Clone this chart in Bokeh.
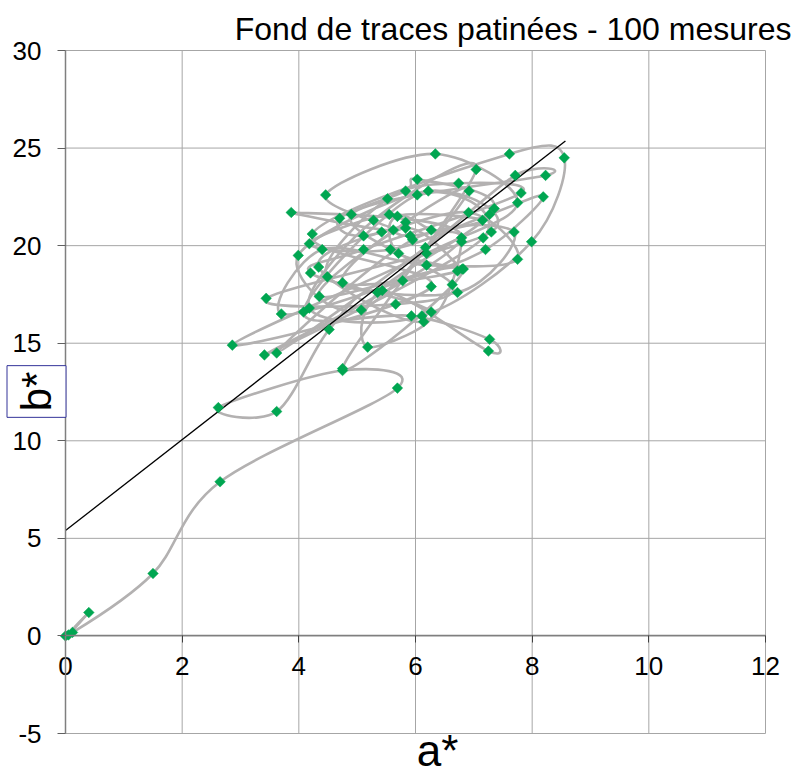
import numpy as np
from bokeh.plotting import figure
from bokeh.models import Label, FixedTicker, Range1d
from bokeh.embed import file_html
from bokeh.resources import INLINE

# ---- data ----
a_star = [0.00, 0.05, 0.40, 0.12, 1.50, 2.65, 5.69, 4.75, 2.62, 3.62,
          4.52, 5.43, 7.25, 7.27, 5.93, 4.08, 6.03, 7.16, 3.41, 6.79,
          3.87, 5.62, 4.46, 6.34, 7.75, 6.19, 2.86, 6.27, 4.23, 7.61,
          8.55, 7.99, 6.11, 4.18, 5.28, 7.04, 4.75, 6.82, 4.35, 5.83,
          6.92, 5.07, 3.99, 6.22, 7.30, 3.44, 5.66, 6.63, 4.90, 8.23,
          7.71, 6.17, 3.62, 5.95, 7.69, 6.72, 4.49, 5.52, 6.74, 7.81,
          5.11, 4.20, 6.27, 5.18, 5.35, 7.35, 6.03, 5.83, 4.70, 5.11,
          6.91, 7.75, 6.19, 4.40, 3.70, 5.78, 7.20, 8.19, 7.27, 5.57,
          4.18, 5.55, 6.27, 6.79, 6.14, 4.34, 5.42, 5.91, 7.15, 5.69,
          5.71, 6.72, 4.75, 5.83, 6.80]
b_star = [0.00, 0.05, 1.20, 0.18, 3.20, 7.90, 12.70, 13.60, 11.70, 11.50,
          15.70, 17.70, 14.60, 15.20, 16.40, 16.60, 22.60, 20.40, 14.40, 20.40,
          21.70, 20.80, 22.60, 24.70, 22.20, 19.60, 14.90, 17.90, 20.60, 24.70,
          24.50, 20.20, 16.40, 16.80, 21.30, 23.90, 13.70, 18.80, 17.40, 21.20,
          22.80, 16.70, 19.50, 22.80, 20.70, 17.30, 17.00, 18.00, 21.60, 23.60,
          23.60, 19.90, 14.50, 20.30, 20.70, 17.60, 18.40, 22.40, 23.20, 22.70,
          19.80, 18.60, 16.60, 14.80, 17.60, 21.90, 23.40, 22.80, 21.40, 20.50,
          21.70, 19.30, 19.00, 19.80, 16.50, 18.20, 19.80, 22.50, 21.60, 19.80,
          20.10, 21.60, 20.80, 20.20, 16.10, 18.90, 20.70, 20.50, 21.30, 21.50,
          19.60, 18.70, 18.10, 20.90, 18.80]

x_ticks = [0, 2, 4, 6, 8, 10, 12]
x_tick_labels = ["0", "2", "4", "6", "8", "10", "12"]
y_ticks = [-5, 0, 5, 10, 15, 20, 25, 30]
y_tick_labels = ["-5", "0", "5", "10", "15", "20", "25", "30"]

trend_slope = 2.33
trend_intercept = 5.4
trend_x = [0.0, 8.57]

title_text = "Fond de traces patinées - 100 mesures"
x_title = "a*"
y_title = "b*"

FONT = "Liberation Sans"

# ---- layout: the frame covers the whole canvas, plot area is drawn in data space ----
W, H = 797, 767
PL, PR, PT, PB = 65, 765, 50, 733          # plot-area edges in pixels
XMIN, XMAX, YMIN, YMAX = 0, 12, -5, 30
sx = (PR - PL) / (XMAX - XMIN)
sy = (PB - PT) / (YMAX - YMIN)
x_range = Range1d(XMIN - PL / sx, XMAX + (W - PR) / sx)
y_range = Range1d(YMIN - (H - PB) / sy, YMAX + PT / sy)

p = figure(width=W, height=H, x_range=x_range, y_range=y_range,
           output_backend="svg", toolbar_location=None,
           min_border_left=0, min_border_right=0,
           min_border_top=0, min_border_bottom=0)
p.background_fill_color = "white"
p.border_fill_color = "white"
p.outline_line_color = None
p.xgrid.visible = False
p.ygrid.visible = False

# grid lines of the plot area
GRID = "#a6a6a6"
p.segment(x0=x_ticks, y0=[YMIN] * len(x_ticks), x1=x_ticks, y1=[YMAX] * len(x_ticks),
          line_color=GRID, line_width=1)
p.segment(x0=[XMIN] * len(y_ticks), y0=y_ticks, x1=[XMAX] * len(y_ticks), y1=y_ticks,
          line_color=GRID, line_width=1)

# x axis crossing at b* = 0
xa = p.xaxis[0]
xa.fixed_location = 0
xa.bounds = (XMIN, XMAX)
xa.ticker = FixedTicker(ticks=x_ticks)
xa.major_label_overrides = {t: l for t, l in zip(x_ticks, x_tick_labels)}
xa.axis_line_color = "#7f7f7f"
xa.axis_line_width = 1.5
xa.major_tick_line_color = "#404040"
xa.major_tick_in = 0
xa.major_tick_out = 7
xa.minor_tick_line_color = None
xa.major_label_text_font = FONT
xa.major_label_text_font_size = "26px"
xa.major_label_text_color = "black"
xa.major_label_standoff = 14

ya = p.yaxis[0]
ya.fixed_location = 0
ya.bounds = (YMIN, YMAX)
ya.ticker = FixedTicker(ticks=y_ticks)
ya.major_label_overrides = {t: l for t, l in zip(y_ticks, y_tick_labels)}
ya.axis_line_color = "#7f7f7f"
ya.axis_line_width = 1.5
ya.major_tick_line_color = "#606060"
ya.major_tick_in = 0
ya.major_tick_out = 8
ya.minor_tick_line_color = None
ya.major_label_text_font = FONT
ya.major_label_text_font_size = "26px"
ya.major_label_text_color = "black"
ya.major_label_standoff = 16

# ---- smoothed connecting line (Catmull-Rom -> cubic Bezier) ----
ax = np.array(a_star, dtype=float)
by = np.array(b_star, dtype=float)
n = len(ax)
xp = np.concatenate([[ax[0]], ax, [ax[-1]]])
yp = np.concatenate([[by[0]], by, [by[-1]]])
cx0 = xp[1:n] + (xp[2:n + 1] - xp[0:n - 1]) / 6.0
cy0 = yp[1:n] + (yp[2:n + 1] - yp[0:n - 1]) / 6.0
cx1 = xp[2:n + 1] - (xp[3:n + 2] - xp[1:n]) / 6.0
cy1 = yp[2:n + 1] - (yp[3:n + 2] - yp[1:n]) / 6.0
p.bezier(x0=ax[:-1], y0=by[:-1], x1=ax[1:], y1=by[1:],
         cx0=cx0, cy0=cy0, cx1=cx1, cy1=cy1,
         line_color="#b3b1b1", line_width=2.6)

# ---- trend line ----
tx = np.array(trend_x)
p.line(tx, trend_intercept + trend_slope * tx, line_color="black", line_width=1.3)

# ---- markers ----
p.scatter(a_star, b_star, marker="square", angle=np.pi / 4, size=7.5,
          fill_color="#00a651", line_color="#00a651", line_width=0.5)

# ---- texts ----
p.add_layout(Label(x=XMIN + (791 - PL) / sx, y=YMAX + (PT - 28) / sy,
                   text=title_text, text_align="right",
                   text_baseline="alphabetic", text_font=FONT,
                   text_font_size="32px", text_color="black"))
p.add_layout(Label(x=6.38, y=YMIN - (750 - PB) / sy, text=x_title,
                   text_align="center", text_baseline="alphabetic",
                   text_font=FONT, text_font_size="44px", text_color="black"))
p.add_layout(Label(x=XMIN + (36 - PL) / sx, y=YMAX - (391 - PT) / sy,
                   text=y_title, text_align="center",
                   text_baseline="middle", angle=np.pi / 2, text_font=FONT,
                   text_font_size="42px", text_color="black",
                   border_line_color="#333399", border_line_width=1,
                   background_fill_color="white", padding=6))

open("out.html", "w").write(file_html(p, INLINE))
